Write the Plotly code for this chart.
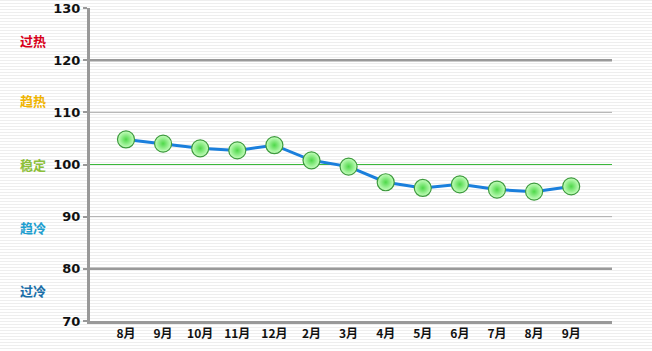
import plotly.graph_objects as go

months = ["8月", "9月", "10月", "11月", "12月", "2月", "3月", "4月", "5月", "6月", "7月", "8月", "9月"]
values = [104.8, 104.0, 103.1, 102.7, 103.7, 100.8, 99.6, 96.6, 95.5, 96.2, 95.2, 94.8, 95.8]
y_ticks = [70, 80, 90, 100, 110, 120, 130]
zone_labels = ["过热", "趋热", "稳定", "趋冷", "过冷"]
zone_colors = ["#d8001a", "#f0b400", "#8cbf3a", "#1f9fd0", "#1a6fa8"]
zone_y = [40, 101, 164, 227, 290]  # pixel rows of the side labels

W, H = 652, 351
L, R, T, B = 90, 40, 8, 30
PW, PH = W - L - R, H - T - B
xs = list(range(len(months)))

fig = go.Figure()
fig.add_trace(go.Scatter(
    x=xs, y=values, mode="lines+markers",
    line=dict(color="#1a7fdc", width=3),
    marker=dict(size=17, color="#c8ffc0",
                gradient=dict(type="radial", color="#4fd84a"),
                line=dict(color="#3d9a3d", width=1.2)),
    hoverinfo="skip", showlegend=False,
))

shapes = []
# striped background
for r in range(0, H, 3):
    yy = (H - B - r - 0.5) / PH
    shapes.append(dict(type="line", xref="paper", yref="paper",
                       x0=-L / PW, x1=(W - L) / PW, y0=yy, y1=yy,
                       line=dict(color="#eeeeee", width=1), layer="below"))
# reference lines
for v, col, wd in [(120, "#9a9a9a", 2.5), (110, "#aaaaaa", 1), (90, "#aaaaaa", 1), (80, "#9a9a9a", 2.5), (100, "#3cb83c", 1)]:
    shapes.append(dict(type="line", xref="paper", yref="y", x0=0, x1=1, y0=v, y1=v,
                       line=dict(color=col, width=wd), layer="below"))

annotations = []
for t, c, py in zip(zone_labels, zone_colors, zone_y):
    annotations.append(dict(text=f"<b>{t}</b>", x=(33 - L) / PW, y=(H - B - py) / PH,
                            xref="paper", yref="paper", showarrow=False,
                            xanchor="center", yanchor="middle",
                            font=dict(color=c, size=13, family="Noto Sans CJK SC")))

fig.update_layout(
    width=W, height=H,
    margin=dict(l=L, r=R, t=T, b=B, autoexpand=False),
    paper_bgcolor="#ffffff", plot_bgcolor="rgba(0,0,0,0)",
    shapes=shapes, annotations=annotations,
    xaxis=dict(range=[-0.97, 13.1], tickvals=xs, ticktext=[f"<b>{m}</b>" for m in months],
               showgrid=False, zeroline=False, showline=True, linecolor="#999999", linewidth=3,
               ticks="", tickfont=dict(size=12, color="#111111", family="Noto Sans CJK SC"),
               automargin=False, fixedrange=True),
    yaxis=dict(range=[70, 130], tickvals=y_ticks, ticktext=[f"<b>{v}</b>" for v in y_ticks],
               showgrid=False, zeroline=False, showline=True, linecolor="#999999", linewidth=3,
               ticks="outside", ticklen=4, tickwidth=2, tickcolor="#999999",
               tickfont=dict(size=13, color="#111111", family="DejaVu Sans"),
               automargin=False, fixedrange=True),
)

fig.write_html("out.html", config={"displayModeBar": False})
